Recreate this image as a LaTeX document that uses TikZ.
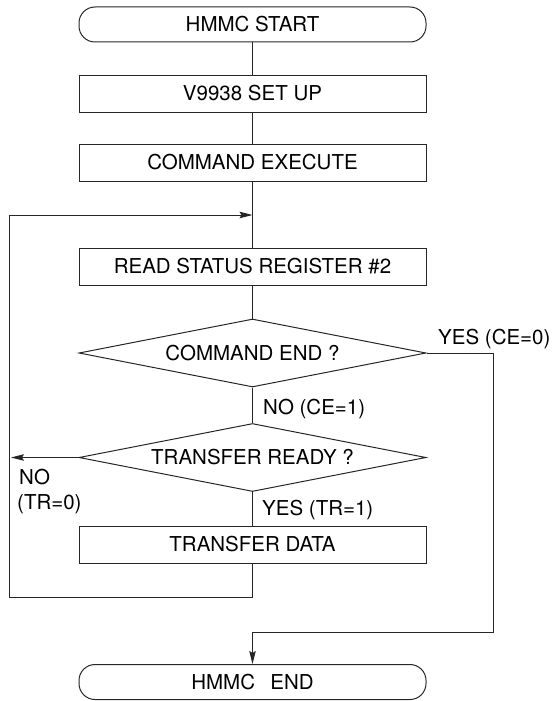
\documentclass[tikz,border=0pt]{standalone}
\usepackage{fontspec}
\setmainfont{TeX Gyre Heros}
\usetikzlibrary{shapes.geometric,arrows.meta}
\begin{document}
\begin{tikzpicture}[x=1pt,y=-1pt,
  every node/.style={font=\fontsize{20.5}{24}\selectfont},
  ln/.style={line width=1pt,draw=black!85},
  terminal/.style={ln,rectangle,rounded corners=16pt,minimum width=347pt,minimum height=35pt,inner sep=0pt,text height=14.5pt,text depth=0pt},
  procbox/.style={ln,rectangle,minimum width=347pt,minimum height=37pt,inner sep=0pt,text height=14.5pt,text depth=0pt},
  decision/.style={ln,diamond,aspect=5.2,minimum width=347pt,minimum height=68pt,inner sep=0pt,text height=14.5pt,text depth=0pt},
  lbl/.style={inner sep=0pt,anchor=base west},
  arr/.style={ln,-{Stealth[length=13pt,width=6.5pt,inset=2pt]}}
]
\useasboundingbox (0,0) rectangle (552,701);
\node[terminal] (start) at (252.5,24.5) {HMMC START};
\node[procbox] (setup) at (252.5,93.5) {V9938 SET UP};
\node[procbox] (exec) at (252.5,162.5) {COMMAND EXECUTE};
\coordinate (join) at (252.5,215);
\node[procbox] (read) at (252.5,266.5) {READ STATUS REGISTER \#2};
\node[decision] (ce) at (252.5,353) {COMMAND END ?};
\node[decision] (tr) at (252.5,457.5) {TRANSFER READY ?};
\node[procbox] (data) at (252.5,544.5) {TRANSFER DATA};
\node[terminal] (endt) at (252.5,682) {HMMC\hspace{0.75em}END};
\coordinate (lb) at (9,597);
\coordinate (rc) at (493,632);
\coordinate (notip) at (11,457.5);

\draw[ln] (start) -- (setup);
\draw[ln] (setup) -- (exec);
\draw[ln] (exec) -- (read);
\draw[ln] (read) -- (ce);
\draw[ln] (ce) -- (tr);
\draw[ln] (tr) -- (data);
\draw[arr] (data.south) |- (lb) |- (join);
\draw[arr] (tr.west) -- (notip);
\draw[arr] (ce.east) -| (rc) -| (endt.north);

\node[lbl] (yce) at (438,344) {YES (CE=0)};
\node[lbl] (nce) at (263,414.5) {NO (CE=1)};
\node[lbl] (ntr) at (19,484.5) {NO};
\node[lbl] (ntr2) at (17,509.5) {(TR=0)};
\node[lbl] (ytr) at (262,515.5) {YES (TR=1)};
\end{tikzpicture}
\end{document}
